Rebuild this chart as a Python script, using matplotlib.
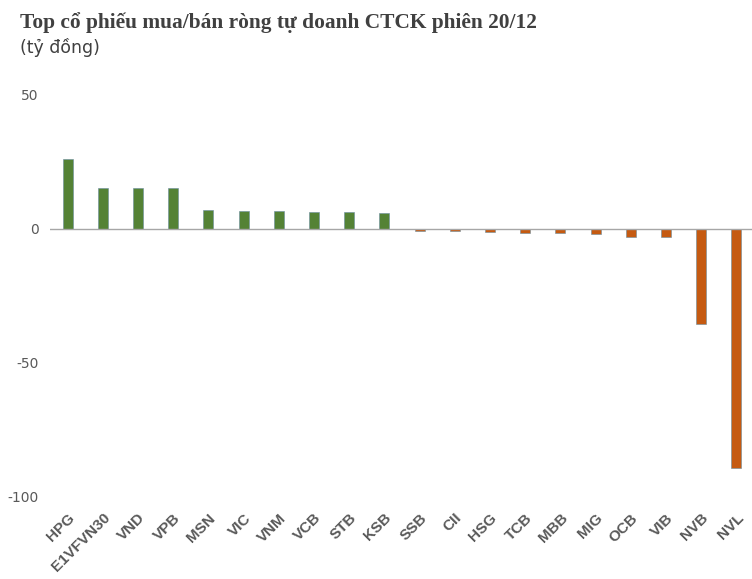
import matplotlib
matplotlib.use("Agg")
from matplotlib import pyplot as plt

# net buy/sell values (ty dong)
tickers = ["HPG", "E1VFVN30", "VND", "VPB", "MSN", "VIC", "VNM", "VCB", "STB", "KSB",
           "SSB", "CII", "HSG", "TCB", "MBB", "MIG", "OCB", "VIB", "NVB", "NVL"]
values = [26.1, 15.3, 15.3, 15.3, 7.1, 6.7, 6.7, 6.3, 6.3, 6.0,
          -0.9, -0.7, -1.3, -1.6, -1.6, -2.0, -2.8, -3.1, -35.4, -89.2]
y_ticks = [50, 0, -50, -100]

green = "#548235"
orange = "#C55A11"
text_gray = "#595959"

fig = plt.figure(figsize=(7.52, 5.79), dpi=100)
ax = fig.add_axes([50 / 752, 1 - 497 / 579, 704 / 752, (497 - 95) / 579])

colors = [green if v >= 0 else orange for v in values]
x = list(range(len(tickers)))
ax.bar(x, values, width=0.28, color=colors, edgecolor="#6A8CA0", linewidth=0.4, zorder=2)
ax.axhline(0, color="#A6A6A6", linewidth=1, zorder=3)

ax.set_xlim(-0.5, len(tickers) - 0.5)
ax.set_ylim(-100, 50)
ax.set_yticks(y_ticks)
ax.set_yticklabels([str(t) for t in y_ticks], fontsize=10, color=text_gray, family="DejaVu Sans")
ax.set_xticks(x)
ax.set_xticklabels(tickers, rotation=45, ha="right", rotation_mode="anchor",
                   fontsize=11, fontweight="bold", color=text_gray, family="Liberation Sans")
ax.tick_params(axis="both", length=0)
ax.tick_params(axis="x", pad=10)
ax.tick_params(axis="y", pad=8)
for s in ax.spines.values():
    s.set_visible(False)

fig.text(20 / 752, 1 - 28 / 579, "Top cổ phiếu mua/bán ròng tự doanh CTCK phiên 20/12",
         fontsize=15.4, fontweight="bold", family="Liberation Serif", color="#404040")
fig.text(20 / 752, 1 - 53 / 579, "(tỷ đồng)", fontsize=12.5, family="DejaVu Sans", color="#404040")

fig.savefig("out.png", dpi=100)
